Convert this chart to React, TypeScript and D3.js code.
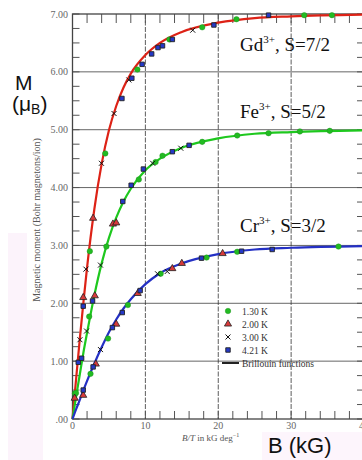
import React, { useEffect, useRef } from "react";
import * as d3 from "d3";

// axis ticks
const fieldTicks = [0, 10, 20, 30, 40];
const fieldLabels = ["0", "10", "20", "30", "40"];
const momentTicks = [0, 1, 2, 3, 4, 5, 6, 7];
const momentLabels = [".00", "1.00", "2.00", "3.00", "4.00", "5.00", "6.00", "7.00"];

// Brillouin curves (B/T in kG/deg -> moment)
const curveField = [0, 0.5, 1, 1.5, 2, 3, 4, 5, 6, 7, 8, 10, 12, 15, 20, 25, 30, 40];
const gdCurve = [0, 0.7, 1.38, 2.02, 2.62, 3.63, 4.41, 4.99, 5.41, 5.73, 5.97, 6.29, 6.5, 6.69, 6.85, 6.93, 6.96, 6.99];
const feCurve = [0, 0.39, 0.77, 1.15, 1.49, 2.14, 2.69, 3.13, 3.48, 3.76, 3.98, 4.3, 4.5, 4.69, 4.85, 4.93, 4.96, 4.99];
const crCurve = [0, 0.17, 0.33, 0.5, 0.66, 0.96, 1.24, 1.5, 1.72, 1.91, 2.07, 2.33, 2.52, 2.69, 2.85, 2.93, 2.96, 2.99];

// measured points [B/T, moment]
const gd130 = [[0.34, 0.44], [2.38, 2.9], [4.5, 4.59], [8.9, 6.04], [13.3, 6.56], [17.8, 6.77], [22.5, 6.91], [31.8, 6.98], [35.6, 6.98]];
const gd200 = [[0.3, 0.36], [1.47, 2.1], [2.83, 3.47]];
const gd300 = [[1.02, 1.37], [1.84, 2.59], [3.97, 4.42], [5.7, 5.28], [7.73, 5.86], [16.5, 6.72]];
const gd421 = [[0.79, 0.98], [1.47, 1.95], [6.78, 5.54], [8.14, 5.89], [9.55, 6.13], [10.86, 6.31], [11.73, 6.42], [12.35, 6.45], [13.7, 6.56], [19.4, 6.81], [26.9, 6.98]];

const fe130 = [[0.48, 0.45], [2.29, 1.77], [4.65, 2.98], [9.1, 4.14], [11.4, 4.44], [12.35, 4.55], [17.8, 4.79], [22.6, 4.9], [26.9, 4.94], [31.2, 4.97], [35.3, 4.98]];
const fe200 = [[3.06, 2.13], [5.55, 3.37], [6.0, 3.39]];
const fe300 = [[1.93, 1.52], [3.84, 2.66], [11.0, 4.42], [14.86, 4.68]];
const fe421 = [[1.25, 1.05], [2.75, 2.04], [6.9, 3.76], [8.05, 4.04], [9.73, 4.32], [13.7, 4.62], [16.0, 4.73]];

const cr130 = [[2.47, 0.78], [4.88, 1.39], [7.6, 1.97], [12.1, 2.51], [18.4, 2.79], [22.6, 2.89], [36.5, 2.98]];
const cr200 = [[1.47, 0.41], [3.2, 0.95], [6.0, 1.64], [8.95, 2.17], [13.7, 2.6], [15.0, 2.69], [20.6, 2.86]];
const cr300 = [[3.84, 1.2], [11.67, 2.51], [13.0, 2.55]];
const cr421 = [[1.47, 0.5], [2.83, 0.9], [5.47, 1.58], [6.83, 1.84], [9.28, 2.22], [17.7, 2.78], [23.2, 2.9], [27.4, 2.93]];

const ionNames = ["Gd", "Fe", "Cr"];
const ionSpins = ["7/2", "5/2", "3/2"];
const legendLabels = ["1.30 K", "2.00 K", "3.00 K", "4.21 K", "Brillouin functions"];

const App = () => {
  const svgRef = useRef<SVGSVGElement>(null);

  useEffect(() => {
    const width = 362;
    const height = 460;
    const svg = d3.select(svgRef.current);
    svg.selectAll("*").remove();
    svg.attr("width", width).attr("height", height);

    const x = d3.scaleLinear().domain([0, 40]).range([72.5, 364]);
    const y = d3.scaleLinear().domain([0, 7]).range([419, 14]);
    const serif = "'Liberation Serif', 'DejaVu Serif', serif";
    const sans = "'Liberation Sans', Arial, sans-serif";

    svg.append("rect").attr("width", width).attr("height", height).attr("fill", "#fff");
    // faint scan backgrounds
    svg.append("rect").attr("x", 8).attr("y", 233).attr("width", 35).attr("height", 227).attr("fill", "#fcf3fb");
    svg.append("rect").attr("x", 262).attr("y", 432).attr("width", 100).attr("height", 28).attr("fill", "#fdf5fc");
    svg.append("rect").attr("x", 27).attr("y", 128).attr("width", 18).attr("height", 182).attr("fill", "#fff");

    // grid
    svg.append("g")
      .selectAll("line")
      .data(momentTicks.slice(1, -1))
      .enter()
      .append("line")
      .attr("x1", x(0)).attr("x2", x(40))
      .attr("y1", (d) => y(d)).attr("y2", (d) => y(d))
      .attr("stroke", "#666").attr("stroke-width", 1);
    svg.append("g")
      .selectAll("line")
      .data(fieldTicks.slice(1, -1))
      .enter()
      .append("line")
      .attr("x1", (d) => x(d)).attr("x2", (d) => x(d))
      .attr("y1", y(7)).attr("y2", y(0))
      .attr("stroke", "#333").attr("stroke-width", 0.8)
      .attr("stroke-dasharray", "5,1.5");

    // minor ticks
    const yMinor = d3.range(0, 7.001, 0.25);
    const xMinor = d3.range(0, 40.001, 2);
    const ticks = svg.append("g").attr("stroke", "#555").attr("stroke-width", 1);
    yMinor.forEach((v) => {
      ticks.append("line").attr("x1", x(0)).attr("x2", x(0) + 7).attr("y1", y(v)).attr("y2", y(v));
      ticks.append("line").attr("x1", x(40) - 7).attr("x2", x(40)).attr("y1", y(v)).attr("y2", y(v));
    });
    xMinor.forEach((v) => {
      ticks.append("line").attr("x1", x(v)).attr("x2", x(v)).attr("y1", y(0)).attr("y2", y(0) - 8);
      ticks.append("line").attr("x1", x(v)).attr("x2", x(v)).attr("y1", y(7)).attr("y2", y(7) + 9);
    });

    // frame
    svg.append("rect")
      .attr("x", x(0)).attr("y", y(7))
      .attr("width", x(40) - x(0)).attr("height", y(0) - y(7))
      .attr("fill", "none").attr("stroke", "#444").attr("stroke-width", 1.3);

    // tick labels
    svg.append("g")
      .selectAll("text")
      .data(momentTicks)
      .enter()
      .append("text")
      .attr("x", 68).attr("y", (d) => y(d) + 3.5)
      .attr("text-anchor", "end")
      .attr("font-family", serif).attr("font-size", 10).attr("fill", "#666")
      .text((d, i) => momentLabels[i]);
    svg.append("g")
      .selectAll("text")
      .data(fieldTicks)
      .enter()
      .append("text")
      .attr("x", (d) => x(d)).attr("y", 429)
      .attr("text-anchor", "middle")
      .attr("font-family", serif).attr("font-size", 10).attr("fill", "#666")
      .text((d, i) => fieldLabels[i]);

    // axis titles
    svg.append("text")
      .attr("transform", "translate(40,220) rotate(-90)")
      .attr("text-anchor", "middle")
      .attr("font-family", serif).attr("font-size", 10).attr("fill", "#555")
      .text("Magnetic moment (Bohr magnetons/ion)");
    const xt = svg.append("text")
      .attr("x", 182).attr("y", 441)
      .attr("font-family", serif).attr("font-size", 9).attr("fill", "#555");
    xt.append("tspan").attr("font-style", "italic").text("B/T");
    xt.append("tspan").text(" in kG deg");
    xt.append("tspan").attr("font-size", 6).attr("dy", -4).text("−1");

    svg.append("text")
      .attr("x", 15).attr("y", 90)
      .attr("font-family", sans).attr("font-size", 21).attr("fill", "#111")
      .text("M");
    const mu = svg.append("text")
      .attr("x", 12).attr("y", 111)
      .attr("font-family", sans).attr("font-size", 21).attr("fill", "#111");
    mu.append("tspan").text("(μ");
    mu.append("tspan").attr("font-size", 14).attr("dy", 3).text("B");
    mu.append("tspan").attr("dy", -3).text(")");

    svg.append("text")
      .attr("x", 268).attr("y", 453)
      .attr("font-family", sans).attr("font-size", 22).attr("fill", "#111")
      .text("B (kG)");

    // Brillouin curves
    const line = d3.line<number>()
      .x((d, i) => x(curveField[i]))
      .y((d) => y(d))
      .curve(d3.curveMonotoneX);
    const curves = [
      { values: gdCurve, color: "#dd2216" },
      { values: feCurve, color: "#1ec81e" },
      { values: crCurve, color: "#2430c4" },
    ];
    curves.forEach((c) => {
      svg.append("path")
        .attr("d", line(c.values))
        .attr("fill", "none")
        .attr("stroke", c.color)
        .attr("stroke-width", 2.2);
    });

    // markers
    const styles = [
      { type: d3.symbolCircle, size: 24, fill: "#22bb22", stroke: "#1a8a1a", sw: 0.4 },
      { type: d3.symbolTriangle, size: 22, fill: "#d83a3a", stroke: "#222", sw: 0.8 },
      { type: d3.symbolTimes, size: 18, fill: "none", stroke: "#111", sw: 1 },
      { type: d3.symbolSquare, size: 20, fill: "#2438c8", stroke: "#222", sw: 0.9 },
    ];
    const groups = [
      [gd130, fe130, cr130],
      [gd200, fe200, cr200],
      [gd300, fe300, cr300],
      [gd421, fe421, cr421],
    ];
    groups.forEach((sets, k) => {
      const s = styles[k];
      const pts = sets.flat();
      svg.append("g")
        .selectAll("path")
        .data(pts)
        .enter()
        .append("path")
        .attr("transform", (d) => `translate(${x(d[0])},${y(d[1])})`)
        .attr("d", d3.symbol().type(s.type).size(s.size)())
        .attr("fill", s.fill)
        .attr("stroke", s.stroke)
        .attr("stroke-width", s.sw);
    });

    // ion labels
    const baselines = [51, 118, 232];
    ionNames.forEach((name, i) => {
      const t = svg.append("text")
        .attr("x", 240).attr("y", baselines[i])
        .attr("font-family", serif).attr("font-size", 19).attr("fill", "#111");
      t.append("tspan").text(name);
      t.append("tspan").attr("font-size", 11).attr("dy", -8).text("3+");
      t.append("tspan").attr("dy", 8).text(`, S=${ionSpins[i]}`);
    });

    // legend
    const legend = svg.append("g");
    legendLabels.forEach((label, i) => {
      const cy = 311 + i * 13;
      if (i < 4) {
        const s = styles[i];
        legend.append("path")
          .attr("transform", `translate(228,${cy})`)
          .attr("d", d3.symbol().type(s.type).size(s.size)())
          .attr("fill", s.fill)
          .attr("stroke", s.stroke)
          .attr("stroke-width", s.sw);
      } else {
        legend.append("line")
          .attr("x1", 222).attr("x2", 239)
          .attr("y1", cy).attr("y2", cy)
          .attr("stroke", "#222").attr("stroke-width", 2);
      }
      legend.append("text")
        .attr("x", 242).attr("y", cy + 3.5)
        .attr("font-family", serif).attr("font-size", 9.5).attr("fill", "#333")
        .text(label);
    });
  }, []);

  return (
    <svg
      ref={svgRef}
      style={{ position: "absolute", left: 0, top: 0, display: "block" }}
    ></svg>
  );
};

export default App;
